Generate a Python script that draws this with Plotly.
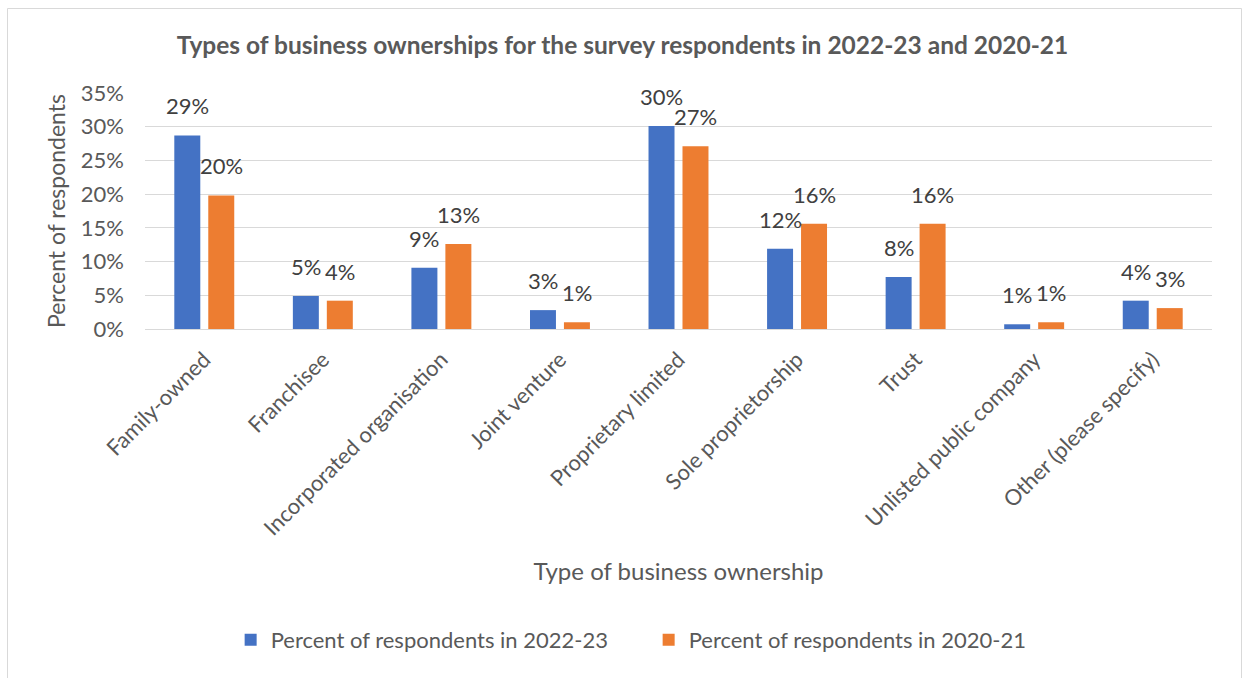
import plotly.graph_objects as go

# Survey data: share of respondents by type of business ownership
categories = [
    "Family-owned",
    "Franchisee",
    "Incorporated organisation",
    "Joint venture",
    "Proprietary limited",
    "Sole proprietorship",
    "Trust",
    "Unlisted public company",
    "Other (please specify)",
]
pct_2022_23 = [0.287, 0.049, 0.091, 0.028, 0.301, 0.119, 0.077, 0.007, 0.042]
pct_2020_21 = [0.198, 0.042, 0.126, 0.010, 0.271, 0.156, 0.156, 0.010, 0.031]
y_ticks = [0, 0.05, 0.10, 0.15, 0.20, 0.25, 0.30, 0.35]

series_names = ["Percent of respondents in 2022-23", "Percent of respondents in 2020-21"]
colors = ["#4472C4", "#ED7D31"]

FONT = "Lato"
W, H = 1245, 678
M = dict(l=145, r=33, t=93, b=349)
BARGAP, GROUPGAP = 0.427, 0.235

fig = go.Figure()
series = [pct_2022_23, pct_2020_21]
for name, vals, col in zip(series_names, series, colors):
    fig.add_trace(go.Bar(
        x=categories, y=vals, name=name,
        marker=dict(color=col, line=dict(width=0)),
    ))

# plot-area geometry, used for label offsets and the outer border
pw = W - M["l"] - M["r"]
ph = H - M["t"] - M["b"]
cat_w = pw / len(categories)
slot = cat_w * (1 - BARGAP) / len(series)

# value labels above each bar, placed with a little padding as in Excel
for i, vals in enumerate(series):
    dx = (i - (len(series) - 1) / 2) * slot
    for cat, v in zip(categories, vals):
        fig.add_annotation(
            x=cat, y=v, xref="x", yref="y", text=f"{v:.0%}",
            showarrow=False, xanchor="center", yanchor="bottom",
            xshift=dx, yshift=14,
            font=dict(family=FONT, size=22, color="#404040"),
        )

def px_x(v):
    return (v - M["l"]) / pw
def px_y(v):
    return (H - M["b"] - v) / ph

fig.add_shape(type="rect", xref="paper", yref="paper",
              x0=px_x(7.5), x1=px_x(1241.5), y0=px_y(690), y1=px_y(8.5),
              line=dict(color="#D9D9D9", width=1), fillcolor="rgba(0,0,0,0)", layer="below")

fig.update_layout(
    width=W, height=H, margin=M,
    paper_bgcolor="white", plot_bgcolor="white",
    barmode="group", bargap=BARGAP, bargroupgap=GROUPGAP,
    title=dict(text="<b>Types of business ownerships for the survey respondents in 2022-23 and 2020-21</b>",
               x=0.5, xref="container", xanchor="center", y=1 - 45 / H, yanchor="middle",
               font=dict(family=FONT, size=24.5, color="#595959")),
    font=dict(family=FONT, color="#595959"),
    showlegend=True,
    legend=dict(orientation="h", x=0.521, xanchor="center", xref="container",
                y=1 - 640 / H, yref="container", yanchor="middle",
                font=dict(family=FONT, size=22, color="#595959"),
                entrywidth=373, tracegroupgap=0, traceorder="normal"),
    xaxis=dict(
        tickangle=-45, tickfont=dict(family=FONT, size=22, color="#595959"),
        showline=True, linecolor="#D9D9D9", linewidth=1, ticks="",
        ticklabelstandoff=8,
        title=dict(text="Type of business ownership", standoff=23,
                   font=dict(family=FONT, size=24, color="#595959")),
    ),
    yaxis=dict(
        range=[0, 0.35], tickvals=y_ticks, tickformat=".0%",
        tickfont=dict(family=FONT, size=22, color="#595959"),
        showgrid=True, gridcolor="#D9D9D9", gridwidth=1, zeroline=False,
        ticklabelstandoff=20,
        title=dict(text="Percent of respondents", standoff=8,
                   font=dict(family=FONT, size=23, color="#595959")),
    ),
)

fig.write_html("out.html")
